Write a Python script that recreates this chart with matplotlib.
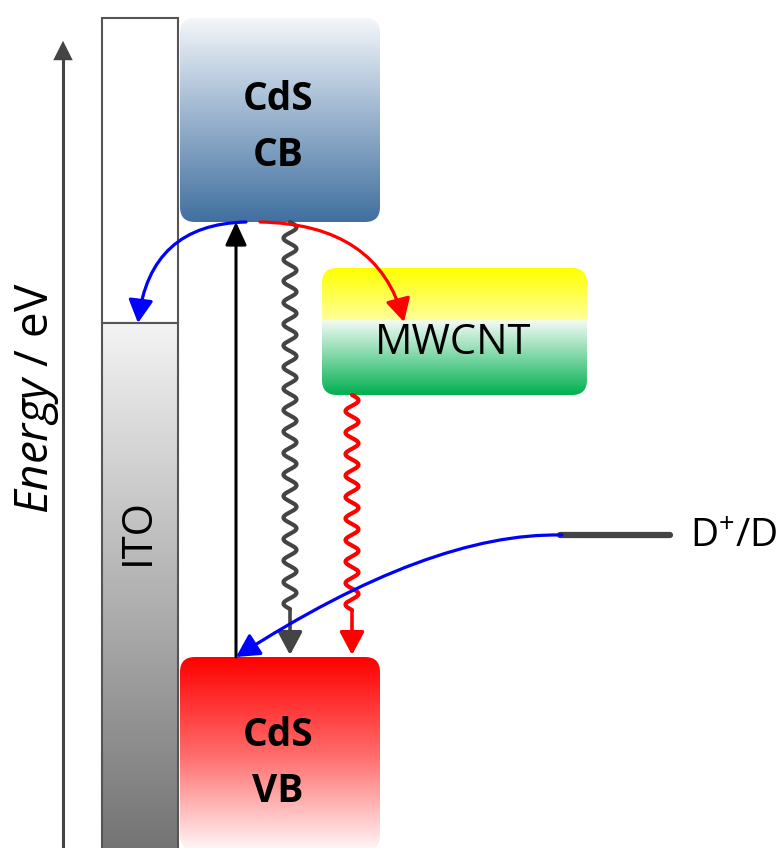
import numpy as np
import matplotlib
matplotlib.use("Agg")
import matplotlib.pyplot as plt
from matplotlib.patches import FancyBboxPatch, Rectangle, FancyArrowPatch, ArrowStyle
from matplotlib.path import Path
from matplotlib.colors import LinearSegmentedColormap

plt.rcParams['font.family'] = ['Open Sans', 'DejaVu Sans']
plt.rcParams['mathtext.fontset'] = 'custom'
plt.rcParams['mathtext.rm'] = 'Open Sans'
plt.rcParams['mathtext.it'] = 'Open Sans:italic'

# energy levels of the schematic (pixel-like units, y grows downward)
ito_top, ito_fermi = 18, 323
cb_top, cb_bottom = 18, 222
vb_top, vb_bottom = 657, 848
mwcnt_top, mwcnt_bottom = 268, 395
redox_level = 535

# columns
ito_x = (102, 178)
cds_x = (180, 380)
mwcnt_x = (322, 587)
redox_x = (560, 670)

labels_cb = ['CdS', 'CB']
labels_vb = ['CdS', 'VB']
label_mwcnt = 'MWCNT'
label_ito = 'ITO'
label_redox = r'D$^{+}$/D'
label_axis = r'$\mathit{Energy}$ / eV'

W, H = 783, 848
fig = plt.figure(figsize=(W / 100, H / 100), dpi=100)
ax = fig.add_axes([0, 0, 1, 1])
ax.set_xlim(0, W)
ax.set_ylim(H, 0)
ax.axis('off')


def grad_box(x0, x1, y0, y1, colors, stops=None, rad=15, z=2):
    if stops is None:
        cmap = LinearSegmentedColormap.from_list('g', colors)
    else:
        cmap = LinearSegmentedColormap.from_list('g', list(zip(stops, colors)))
    patch = FancyBboxPatch((x0, y0), x1 - x0, y1 - y0,
                           boxstyle='round,pad=0,rounding_size=%d' % rad,
                           facecolor='none', edgecolor='none', zorder=z)
    ax.add_patch(patch)
    g = np.linspace(0, 1, 256).reshape(-1, 1)
    im = ax.imshow(g, cmap=cmap, extent=(x0, x1, y1, y0), origin='upper',
                   aspect='auto', zorder=z, interpolation='bilinear')
    im.set_clip_path(patch)


# energy axis
ax.plot([63, 63], [H, 56], color='#444444', lw=2.2, solid_capstyle='butt', zorder=3)
ax.add_patch(FancyArrowPatch((63, 60), (63, 38), arrowstyle=ArrowStyle('-|>', head_length=14, head_width=7),
                             color='#444444', lw=0, mutation_scale=1, zorder=3))
ax.text(37, 398, label_axis, rotation=90, fontsize=33, ha='center', va='center')

# ITO
ax.add_patch(Rectangle((ito_x[0], ito_top), ito_x[1] - ito_x[0], ito_fermi - ito_top,
                       facecolor='white', edgecolor='#555555', lw=1.5, zorder=2))
cm_ito = LinearSegmentedColormap.from_list('ito', ['#f3f3f3', '#747474'])
ax.imshow(np.linspace(0, 1, 256).reshape(-1, 1), cmap=cm_ito,
          extent=(ito_x[0], ito_x[1], H, ito_fermi), origin='upper', aspect='auto', zorder=2)
ax.add_patch(Rectangle((ito_x[0], ito_fermi), ito_x[1] - ito_x[0], H - ito_fermi + 5,
                       facecolor='none', edgecolor='#555555', lw=1.5, zorder=3))
ax.text(138, 532, label_ito, rotation=90, fontsize=30, ha='center', va='center', zorder=4)

# CdS CB / VB
grad_box(cds_x[0], cds_x[1], cb_top, cb_bottom, ['#f4f6f9', '#a9bfd6', '#41709f'], [0, 0.4, 1])
grad_box(cds_x[0], cds_x[1], vb_top, vb_bottom + 2, ['#ff0000', '#ff6a6a', '#fff6f6'], [0, 0.5, 1])
ax.text(278, 100, labels_cb[0], fontsize=28, fontweight='bold', ha='center', va='center', zorder=5)
ax.text(278, 155, labels_cb[1], fontsize=28, fontweight='bold', ha='center', va='center', zorder=5)
ax.text(278, 735, labels_vb[0], fontsize=28, fontweight='bold', ha='center', va='center', zorder=5)
ax.text(278, 791, labels_vb[1], fontsize=28, fontweight='bold', ha='center', va='center', zorder=5)

# MWCNT
grad_box(mwcnt_x[0], mwcnt_x[1], mwcnt_top, mwcnt_bottom,
         ['#ffff00', '#ffff9a', '#f2faf5', '#00b050'], [0, 0.405, 0.415, 1])
ax.text(453, 343, label_mwcnt, fontsize=30, ha='center', va='center', zorder=5)

# redox level
ax.plot(redox_x, [redox_level, redox_level], color='#444444', lw=4.5, solid_capstyle='round', zorder=4)
ax.text(690, 537, label_redox, fontsize=28, ha='left', va='center', zorder=5)


def curve(p0, c, p1, color):
    path = Path([p0, c, p1], [Path.MOVETO, Path.CURVE3, Path.CURVE3])
    ax.add_patch(FancyArrowPatch(path=path, arrowstyle=ArrowStyle('-|>', head_length=14, head_width=7.5),
                                 color=color, lw=2.3, mutation_scale=1, zorder=6))


def wave(xc, y0, y1, color, period=21.5, amp=6.5):
    n = int((y1 - y0 - 26) // period)
    yend = y0 + n * period
    y = np.linspace(y0, yend, 800)
    x = xc + amp * np.sin(2 * np.pi * (y - y0) / period)
    ax.plot(x, y, color=color, lw=3, zorder=5, solid_capstyle='round')
    ax.add_patch(FancyArrowPatch((xc, yend), (xc, y1), arrowstyle=ArrowStyle('-|>', head_length=14, head_width=7.5),
                                 color=color, lw=2.6, mutation_scale=1, zorder=5, shrinkA=0, shrinkB=0))


# excitation
ax.add_patch(FancyArrowPatch((236, vb_top), (236, cb_bottom), arrowstyle=ArrowStyle('-|>', head_length=14, head_width=6.5),
                             color='black', lw=2.2, mutation_scale=1, zorder=6, shrinkA=0, shrinkB=0))

# recombination
wave(290, cb_bottom, vb_top - 2, '#444444')
wave(352, mwcnt_bottom, vb_top - 2, '#ff0000')

# electron transfer
curve((246, cb_bottom), (150, 224), (138, ito_fermi), '#0000ff')
curve((260, cb_bottom), (378, 224), (404, 322), '#ff0000')
curve((562, redox_level), (430, 532), (236, vb_top), '#0000ff')

fig.savefig('out.png', dpi=100)
